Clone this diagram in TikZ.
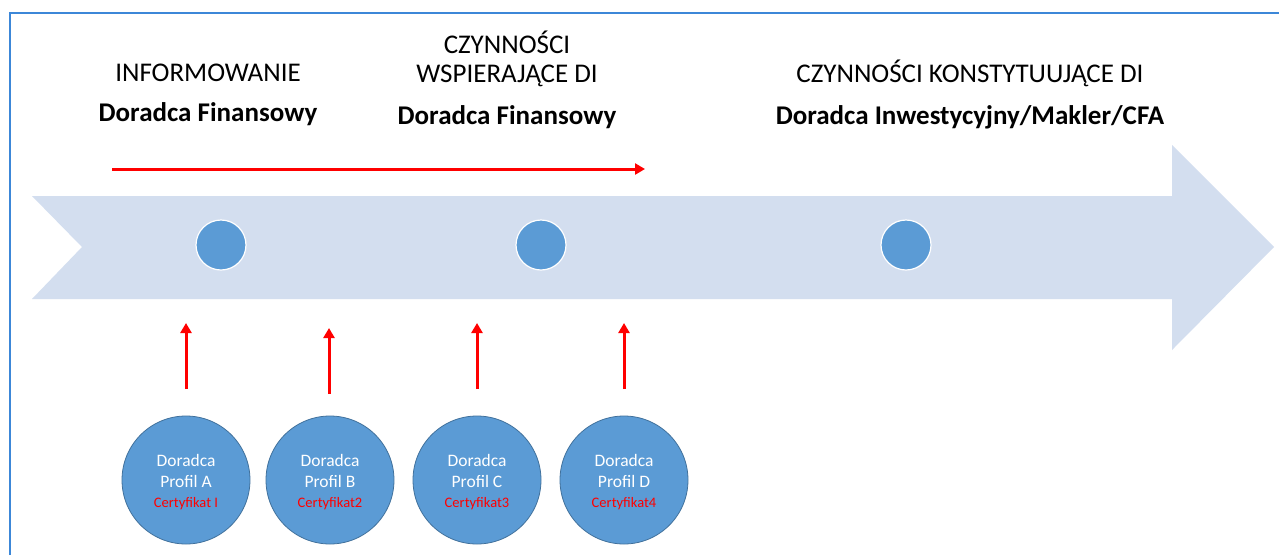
\documentclass[tikz,border=0pt]{standalone}
\usepackage{fontspec}
\setmainfont{Carlito}
\usetikzlibrary{arrows.meta}
\definecolor{band}{HTML}{D3DEEF}
\definecolor{dotblue}{HTML}{5B9BD5}
\definecolor{ringblue}{HTML}{41719C}
\definecolor{frameblue}{HTML}{3C87D8}
\definecolor{arrred}{HTML}{FF0000}
\tikzset{
  title/.style={font=\fontsize{27}{32}\selectfont, text=black, inner sep=0pt, anchor=base},
  titlebold/.style={title, font=\fontsize{27}{32}\selectfont\bfseries},
  smalldot/.style={circle, fill=dotblue, draw=white, line width=1.2pt, minimum size=50pt, inner sep=0pt},
  bigdot/.style={circle, fill=dotblue, draw=ringblue, line width=0.8pt, minimum size=128pt, inner sep=0pt},
  dtext/.style={font=\fontsize{17.5}{20}\selectfont, text=white, inner sep=0pt, anchor=base},
  ctext/.style={font=\fontsize{14.5}{17}\selectfont, text=arrred, inner sep=0pt, anchor=base},
  redarrow/.style={draw=arrred, line width=3pt, -{Triangle[length=10pt,width=11pt]}},
}
\begin{document}
\begin{tikzpicture}[x=1pt,y=-1pt]
\useasboundingbox (0,0) rectangle (1279,555);
\fill[white] (0,0) rectangle (1279,555);
% frame
\draw[frameblue, line width=2pt] (10,555) -- (10,13) -- (1279,13);
% band arrow
\fill[band] (32,196) -- (1172,196) -- (1172,145) -- (1274,247) -- (1172,350) -- (1172,299) -- (32,299) -- (82,247) -- cycle;
% small dots
\node[smalldot] (s1) at (221,245) {};
\node[smalldot] (s2) at (541,245) {};
\node[smalldot] (s3) at (906,245) {};
% titles
\node[title] (t1a) at (208,81) {INFORMOWANIE};
\node[titlebold] (t1b) at (208,121) {Doradca Finansowy};
\node[title] (t2a) at (507,53) {CZYNNOŚCI};
\node[title] (t2b) at (507,82) {WSPIERAJĄCE DI};
\node[titlebold] (t2c) at (507,124) {Doradca Finansowy};
\node[title] (t3a) at (970,82) {CZYNNOŚCI KONSTYTUUJĄCE DI};
\node[titlebold] (t3b) at (970,124) {Doradca Inwestycyjny/Makler/CFA};
% horizontal arrow
\coordinate (h0) at (112,169);
\coordinate (h1) at (645,169);
\draw[redarrow] (h0) -- (h1);
% big circles
\node[bigdot] (A) at (186,480) {};
\node[bigdot] (B) at (330,480) {};
\node[bigdot] (C) at (477,480) {};
\node[bigdot] (D) at (624,480) {};
\foreach \n/\p/\c in {A/Profil A/Certyfikat I, B/Profil B/Certyfikat2, C/Profil C/Certyfikat3, D/Profil D/Certyfikat4}{
  \node[dtext] (\n l1) at ([yshift=14pt]\n.center) {Doradca};
  \node[dtext] (\n l2) at ([yshift=-7pt]\n.center) {\p};
  \node[ctext] (\n l3) at ([yshift=-27pt]\n.center) {\c};
}
% vertical arrows
\coordinate (a0) at (186,389); \coordinate (a1) at (186,323);
\coordinate (b0) at (329,394); \coordinate (b1) at (329,328);
\coordinate (c0) at (477,389); \coordinate (c1) at (477,323);
\coordinate (d0) at (624,389); \coordinate (d1) at (624,323);
\draw[redarrow] (a0) -- (a1);
\draw[redarrow] (b0) -- (b1);
\draw[redarrow] (c0) -- (c1);
\draw[redarrow] (d0) -- (d1);
\end{tikzpicture}
\end{document}
